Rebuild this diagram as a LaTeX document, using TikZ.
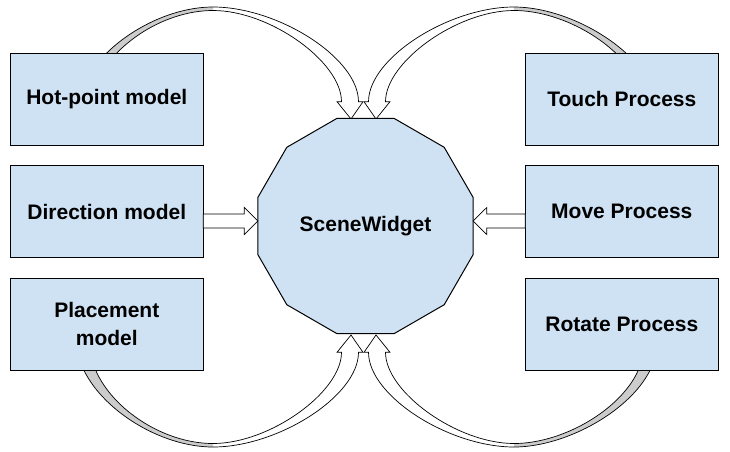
\documentclass[tikz,border=0pt]{standalone}
\usepackage{fontspec}
\setmainfont{Liberation Sans}
\usetikzlibrary{calc,positioning,shapes.geometric}
\definecolor{boxblue}{HTML}{CFE2F3}
\definecolor{ribbongray}{HTML}{CCCCCC}
% curved ribbon arrow, drawn as the top left one and mirrored by #1; #2 moves its start
\def\bentarrow[#1](#2){%
\begin{scope}[#1]
	\fill[white] (213,7) .. controls (278,7) and (358.5,58) .. (358.5,101.7) -- (363,101.7) -- (351,119) -- (337,101.7) -- (341.5,101.7) .. controls (341.5,62) and (270,10.5) .. (213,10.5) -- cycle;
	\fill[ribbongray] ({82+#2},88) .. controls ({100+#2},45) and (160,7) .. (213,7) -- (213,10.5) .. controls (162,10.5) and ({109+#2},47) .. ({94+#2},88) -- cycle;
	\draw[line width=0.7pt] ({82+#2},88) .. controls ({100+#2},45) and (160,7) .. (213,7) .. controls (278,7) and (358.5,58) .. (358.5,101.7) -- (363,101.7) -- (351,119) -- (337,101.7) -- (341.5,101.7) .. controls (341.5,62) and (270,10.5) .. (213,10.5) .. controls (162,10.5) and ({109+#2},47) .. ({94+#2},88);
\end{scope}}
% straight hollow arrow from #1 to #2, #3 = head length (negative points left)
\newcommand{\blockarrow}[3]{%
	\draw[hollow] ($(#1)+(0,-7)$) -- ($(#2)-(#3,7)$) -- ($(#2)-(#3,13.5)$) -- (#2) -- ($(#2)-(#3,-13.5)$) -- ($(#2)-(#3,-7)$) -- ($(#1)+(0,7)$) -- cycle;}

\begin{document}
\begin{tikzpicture}[x=1pt,y=-1pt,
	box/.style={draw, line width=1pt, fill=boxblue, minimum width=193pt, minimum height=92pt, inner sep=0pt, outer sep=0pt, align=center, font=\bfseries\fontsize{21}{28}\selectfont},
	scene/.style={draw, line width=1pt, fill=boxblue, regular polygon, regular polygon sides=12, minimum size=222.6pt, inner sep=0pt, outer sep=0pt, font=\bfseries\fontsize{21}{28}\selectfont},
	hollow/.style={draw, fill=white, line width=0.7pt, line join=miter}]
	\useasboundingbox (0,0) rectangle (730,451);
	%%%%% RIBBONS %%%%%
	\bentarrow[](0)
	\bentarrow[shift={(727,0)},xscale=-1](-7)
	\bentarrow[shift={(0,454)},yscale=-1](0)
	\bentarrow[shift={(727,454)},scale=-1](-7)
	
	%%%%% BOXES %%%%%
	\node[box] (hot) at (106.8,99.3) {Hot-point model};
	\node[box, below=20.4pt of hot] (dir) {Direction model};
	\node[box, below=20.4pt of dir] (place) {Placement\\model};
	\node[box, right=322pt of hot] (touch) {Touch Process};
	\node[box, below=20.4pt of touch] (move) {Move Process};
	\node[box, below=20.4pt of move] (rotate) {Rotate Process};
	
	\node[scene] (widget) at (365.5,226) {SceneWidget};
	
	%%%%% ARROWS %%%%%
	\coordinate (dirout) at ($(dir.east |- widget.center)+(0,-5)$);
	\coordinate (dirin) at ($(widget.west)+(0,-5)$);
	\coordinate (moveout) at ($(move.west |- widget.center)+(0,-5)$);
	\coordinate (movein) at ($(widget.east)+(0,-5)$);
	\blockarrow{dirout}{dirin}{13.7}
	\blockarrow{moveout}{movein}{-13.7}
\end{tikzpicture}
\end{document}
